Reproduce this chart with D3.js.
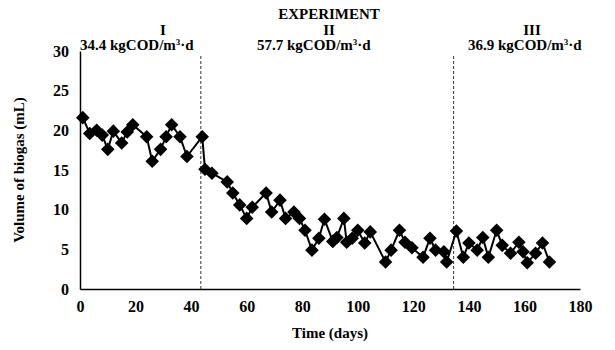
<!DOCTYPE html>
<html><head><meta charset="utf-8">
<script src="https://cdn.jsdelivr.net/npm/d3@7"></script>
<style>
body{margin:0;background:#fff;}
text{font-family:"Liberation Serif","Times New Roman",serif;font-weight:bold;fill:#000;}
</style></head>
<body><svg id="c" width="615" height="350"></svg>
<script>
const days = [1,3.5,6,8,10,12,15,17,19,24,26,29,31,33,36,38.5,44,
  45,47.5,53,55,57.5,60,62,67,69,72,74,77,79,81,83.5,86,88,91,92.5,95,96,98,100,102.5,104.5,110,112,115,117,119.5,123.5,126,128,131,132,135.5,
  138,140,143,145,147,150,152,155,158,159.5,161,164,166.5,169];
const volume = [21.6,19.6,20.0,19.4,17.6,19.9,18.4,19.8,20.7,19.2,16.1,17.6,19.2,20.7,19.2,16.7,19.2,
  15.1,14.6,13.5,12.1,10.6,8.9,10.3,12.1,9.7,11.2,8.9,9.7,8.9,7.4,4.9,6.4,8.8,6.0,6.5,8.9,5.9,6.4,7.4,5.8,7.2,3.4,4.9,7.4,5.9,5.2,4.0,6.4,4.9,4.7,3.4,7.3,
  4.0,5.8,4.9,6.5,4.0,7.4,5.5,4.5,5.9,4.7,3.3,4.5,5.8,3.4];
const xTicks = [0,20,40,60,80,100,120,140,160,180];
const yTicks = [0,5,10,15,20,25,30];
const phaseBounds = [43.5,134.5];
const phaseNames = ["I","II","III"];
const phaseRates = ["34.4 kgCOD/m","57.7 kgCOD/m","36.9 kgCOD/m"];
const titleText = "EXPERIMENT";
const xTitle = "Time (days)";
const yTitle = "Volume of biogas (mL)";

const svg = d3.select("#c");
const x = d3.scaleLinear().domain([0,180]).range([80,580]);
const y = d3.scaleLinear().domain([0,30]).range([289,51]);

const xa = svg.append("g").attr("transform","translate(0,289)")
  .call(d3.axisBottom(x).tickValues(xTicks).tickSize(0).tickPadding(12));
const ya = svg.append("g").attr("transform","translate(80,0)")
  .call(d3.axisLeft(y).tickValues(yTicks).tickSize(0).tickPadding(11));
[xa,ya].forEach(g=>{
  g.select(".domain").attr("stroke","#000").attr("stroke-width",1.5);
  g.selectAll("text").style("font-size","16px").style("font-family","'Liberation Serif',serif").style("font-weight","bold");
});

svg.selectAll("line.ph").data(phaseBounds).enter().append("line")
  .attr("x1",d=>x(d)).attr("x2",d=>x(d)).attr("y1",y(0)).attr("y2",y(29.5))
  .attr("stroke","#333").attr("stroke-width",1).attr("stroke-dasharray","3,2");

const pts = days.map((d,i)=>[d,volume[i]]);
svg.append("path").datum(pts)
  .attr("fill","none").attr("stroke","#000").attr("stroke-width",2)
  .attr("d",d3.line().x(d=>x(d[0])).y(d=>y(d[1])));
const sym = d3.symbol().type(d3.symbolSquare).size(92);
svg.selectAll("path.m").data(pts).enter().append("path")
  .attr("d",sym())
  .attr("transform",d=>`translate(${x(d[0])},${y(d[1])}) rotate(45)`)
  .attr("fill","#000");

svg.append("text").attr("x",329).attr("y",19).attr("text-anchor","middle")
  .style("font-size","15px").text(titleText);
const nameX = [163,329,532];
svg.selectAll("text.pn").data(phaseNames).enter().append("text")
  .attr("x",(d,i)=>nameX[i]).attr("y",35).attr("text-anchor","middle")
  .style("font-size","15px").text(d=>d);
const rateX = [80,257,468];
const rt = svg.selectAll("text.pr").data(phaseRates).enter().append("text")
  .attr("x",(d,i)=>rateX[i]).attr("y",50)
  .style("font-size","15px");
rt.append("tspan").text(d=>d);
rt.append("tspan").attr("dy",-5).style("font-size","9px").text("3");
rt.append("tspan").attr("dy",5).text("·d");

svg.append("text").attr("x",330).attr("y",338).attr("text-anchor","middle")
  .style("font-size","15px").text(xTitle);
svg.append("text").attr("transform","translate(24,170) rotate(-90)").attr("text-anchor","middle")
  .style("font-size","15px").text(yTitle);
</script></body></html>
